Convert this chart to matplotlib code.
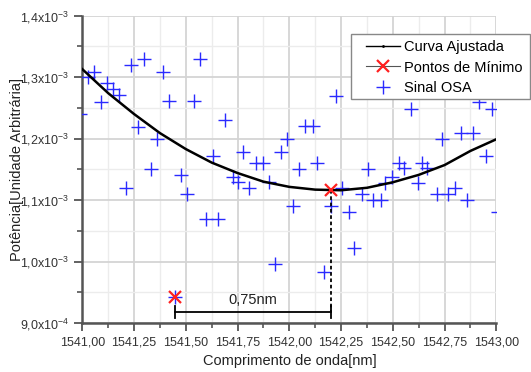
import numpy as np
import matplotlib
matplotlib.use("Agg")
import matplotlib.pyplot as plt
from matplotlib.lines import Line2D
from matplotlib.patches import Rectangle

plt.rcParams["font.family"] = ["Liberation Sans", "DejaVu Sans"]
plt.rcParams["mathtext.fontset"] = "custom"
plt.rcParams["mathtext.rm"] = "Liberation Sans"
plt.rcParams["mathtext.it"] = "Liberation Sans"

# ------------------ Data (power in units of 1e-3) ------------------

osa_x = [1540.990, 1541.028, 1541.057, 1541.089, 1541.118, 1541.149, 1541.178,
         1541.210, 1541.237, 1541.269, 1541.298, 1541.330, 1541.359, 1541.390,
         1541.417, 1541.446, 1541.478, 1541.507, 1541.538, 1541.570, 1541.599,
         1541.630, 1541.657, 1541.688, 1541.730, 1541.754, 1541.776, 1541.807,
         1541.841, 1541.873, 1541.900, 1541.931, 1541.958, 1541.990, 1542.019,
         1542.048, 1542.077, 1542.114, 1542.135, 1542.168, 1542.201, 1542.227,
         1542.256, 1542.288, 1542.311, 1542.350, 1542.379, 1542.406, 1542.442,
         1542.462, 1542.495, 1542.532, 1542.554, 1542.586, 1542.623, 1542.643,
         1542.667, 1542.712, 1542.739, 1542.768, 1542.800, 1542.828, 1542.860,
         1542.886, 1542.918, 1542.949, 1542.978, 1543.010]
osa_y = [1.240, 1.301, 1.308, 1.260, 1.290, 1.281, 1.271,
         1.119, 1.320, 1.219, 1.329, 1.151, 1.200, 1.309,
         1.261, 0.942, 1.140, 1.110, 1.261, 1.329, 1.070,
         1.171, 1.070, 1.230, 1.137, 1.129, 1.179, 1.119,
         1.160, 1.160, 1.129, 0.996, 1.179, 1.200, 1.091,
         1.150, 1.220, 1.220, 1.160, 0.983, 1.091, 1.269,
         1.119, 1.081, 1.022, 1.110, 1.150, 1.100, 1.100,
         1.127, 1.137, 1.160, 1.152, 1.249, 1.128, 1.160,
         1.152, 1.110, 1.199, 1.110, 1.119, 1.209, 1.100,
         1.209, 1.259, 1.171, 1.249, 1.080]

fit_x = [1541.000, 1541.125, 1541.250, 1541.375, 1541.500, 1541.625, 1541.750,
         1541.875, 1542.000, 1542.125, 1542.250, 1542.375, 1542.500, 1542.625,
         1542.750, 1542.875, 1543.000]
fit_y = [1.313, 1.274, 1.240, 1.209, 1.183, 1.161, 1.144,
         1.130, 1.1215, 1.117, 1.116, 1.120, 1.129, 1.141,
         1.157, 1.180, 1.199]

min_x = [1541.446, 1542.200]
min_y = [0.942, 1.116]
span_label = "0,75nm"

x_ticks = [1541.00, 1541.25, 1541.50, 1541.75, 1542.00, 1542.25, 1542.50, 1542.75, 1543.00]
x_tick_labels = ["1541,00", "1541,25", "1541,50", "1541,75", "1542,00",
                 "1542,25", "1542,50", "1542,75", "1543,00"]
y_ticks = [0.9, 1.0, 1.1, 1.2, 1.3, 1.4]
y_tick_labels = [r"9,0x10$^{-4}$", r"1,0x10$^{-3}$", r"1,1x10$^{-3}$",
                 r"1,2x10$^{-3}$", r"1,3x10$^{-3}$", r"1,4x10$^{-3}$"]

# ------------------ Plot ------------------

fig = plt.figure(figsize=(5.31, 3.72), dpi=100)
ax = fig.add_axes([0.155, 0.1317, 0.7797, 0.8261])

spine_c = "#555555"
ax.set_xlim(1541.0, 1543.0)
ax.set_ylim(0.9, 1.4)
ax.set_xticks(x_ticks)
ax.set_xticklabels(x_tick_labels)
ax.set_xticks(np.arange(1541.125, 1543.0, 0.25), minor=True)
ax.set_yticks(y_ticks)
ax.set_yticklabels(y_tick_labels)
ax.set_yticks(np.arange(0.95, 1.4, 0.1), minor=True)

ax.grid(which="major", color="#d4d4d4", lw=1.3)
ax.grid(which="minor", color="#ececec", lw=1.0)
ax.set_axisbelow(True)

for s in ("top", "right"):
    ax.spines[s].set_visible(False)
for s in ("left", "bottom"):
    ax.spines[s].set_color(spine_c)
    ax.spines[s].set_linewidth(1.8)
ax.tick_params(which="major", direction="out", length=6, width=1.3,
               color=spine_c, labelsize=9, labelcolor="#333333")
ax.tick_params(which="minor", direction="out", length=3.5, width=1.2, color=spine_c)

ax.set_xlabel("Comprimento de onda[nm]", fontsize=10.5, color="#222222", labelpad=4)
ax.set_ylabel("Potência[Unidade Arbitrária]", fontsize=10.5, color="#222222")
ax.yaxis.set_label_coords(-0.14, 0.5)

ax.plot(osa_x, osa_y, ls="none", marker="+", ms=10.5, mew=1.0, color="#2a2aff", zorder=3)
ax.plot(fit_x, fit_y, color="black", lw=1.8, zorder=4)
ax.plot(min_x, min_y, ls="none", marker="x", ms=9, mew=1.6, color="#ff2020", zorder=5)

# span annotation between the two minima
bar_y = 0.918
ax.plot([min_x[1], min_x[1]], [min_y[1], bar_y], color="black", lw=1.3,
        ls=(0, (2, 1.5)), zorder=4)
ax.plot(min_x, [bar_y, bar_y], color="black", lw=1.3, zorder=4)
for xv in min_x:
    ax.plot([xv, xv], [bar_y - 0.0098, bar_y + 0.0098], color="black", lw=1.3, zorder=4)
ax.text(sum(min_x) / 2, bar_y + 0.0085, span_label, ha="center", va="bottom",
        fontsize=10.5, color="#222222")

# legend: box drawn by hand, entries placed inside it
W, H = 531.0, 372.0
fig.patches.append(Rectangle((351 / W, 1 - 99 / H), 179 / W, 65 / H,
                             transform=fig.transFigure, facecolor="white",
                             edgecolor="#888888", lw=1.0, zorder=10))
handles = [
    Line2D([], [], color="black", lw=1.0, marker=".", ms=2),
    Line2D([], [], color="#555555", lw=0.8, marker="x", ms=9, mew=1.6, mec="#ff2020"),
    Line2D([], [], ls="none", marker="+", ms=10.5, mew=1.0, color="#2a2aff"),
]
labels = ["Curva Ajustada", "Pontos de Mínimo", "Sinal OSA"]
leg = fig.legend(handles, labels, loc="upper left",
                 bbox_to_anchor=(366 / W, 1 - 40 / H), frameon=False,
                 fontsize=10.5, handlelength=2.35, handletextpad=0.28,
                 borderpad=0, labelspacing=0.45, borderaxespad=0)
leg.set_zorder(11)

plt.savefig("out.png", dpi=100)
